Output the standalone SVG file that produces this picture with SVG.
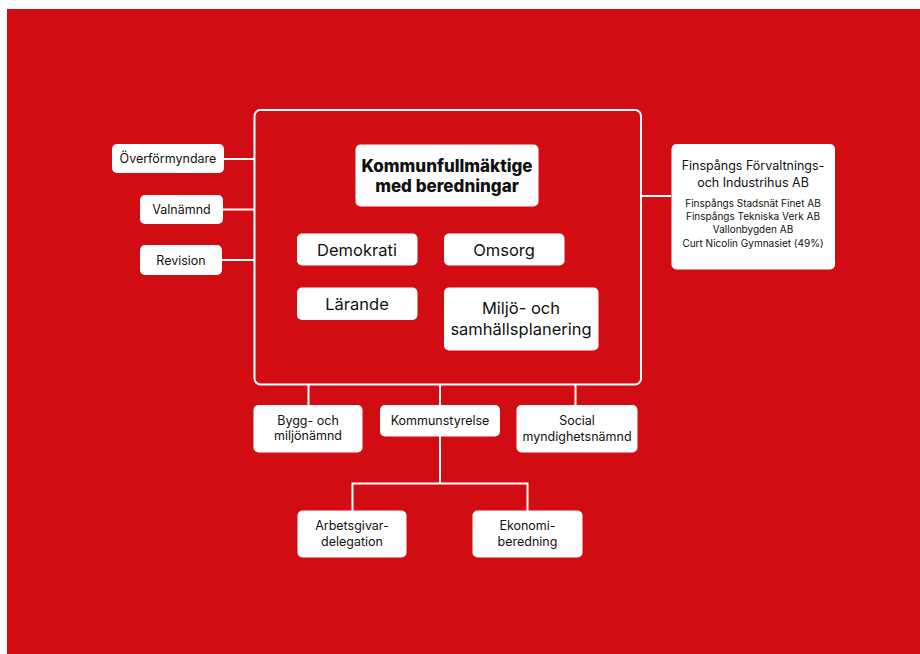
<svg xmlns="http://www.w3.org/2000/svg" width="920" height="654" viewBox="0 0 920 654">
<style>
.box{fill:#fff;}
.ln{stroke:#fff;stroke-width:2;fill:none;}
text{font-family:Inter,"Noto Sans",sans-serif;fill:#111;text-anchor:middle;dominant-baseline:central;}
.s13{font-size:12.5px;}
.s16{font-size:16.5px;}
.b{font-size:17px;font-weight:800;}
.s10{font-size:10px;}
</style>
<rect x="0" y="0" width="920" height="654" fill="#fff"/>
<rect x="7" y="9" width="913" height="645" fill="#D20C13"/>
<g id="connectors">
<rect class="ln" x="254.5" y="110" width="386.5" height="274.5" rx="6"/>
<path class="ln" d="M224 159H254.5M223 209.5H254.5M222 260H254.5"/>
<path class="ln" d="M641 196H671"/>
<path class="ln" d="M308.5 384.5V405M440 384.5V405M575.5 384.5V405"/>
<path class="ln" d="M440 436.5V483.5M352.5 483.5H527.5M352.5 482.5V510.5M527.5 482.5V510.5"/>
</g>
<g id="overformyndare"><rect class="box" x="112" y="144" width="112" height="29" rx="5"/><text class="s13" x="168" y="158.5">Överförmyndare</text></g>
<g id="valnamnd"><rect class="box" x="140" y="195" width="83" height="29" rx="5"/><text class="s13" x="181.5" y="209.5">Valnämnd</text></g>
<g id="revision"><rect class="box" x="140" y="245" width="82" height="30" rx="5"/><text class="s13" x="181" y="260">Revision</text></g>
<g id="kommunfullmaktige"><rect class="box" x="355.5" y="144.5" width="183" height="62" rx="5"/><text class="b" x="447" y="166">Kommunfullmäktige</text><text class="b" x="447" y="186">med beredningar</text></g>
<g id="demokrati"><rect class="box" x="297" y="233.5" width="120.5" height="32" rx="5"/><text class="s16" x="357" y="249.5">Demokrati</text></g>
<g id="omsorg"><rect class="box" x="444" y="233.5" width="120.5" height="32" rx="5"/><text class="s16" x="504" y="249.5">Omsorg</text></g>
<g id="larande"><rect class="box" x="297" y="287.5" width="120.5" height="32.5" rx="5"/><text class="s16" x="357" y="303.5">Lärande</text></g>
<g id="miljo"><rect class="box" x="444" y="287.5" width="154.5" height="63" rx="5"/><text class="s16" x="521" y="308">Miljö- och</text><text class="s16" x="521" y="328.5">samhällsplanering</text></g>
<g id="finspang"><rect class="box" x="671.5" y="144" width="163.5" height="125.5" rx="5"/><text class="s13" x="753" y="165">Finspångs Förvaltnings-</text><text class="s13" x="753" y="182.5">och Industrihus AB</text><text class="s10" x="753" y="202.5">Finspångs Stadsnät Finet AB</text><text class="s10" x="753" y="216">Finspångs Tekniska Verk AB</text><text class="s10" x="753" y="229">Vallonbygden AB</text><text class="s10" x="753" y="242.5">Curt Nicolin Gymnasiet (49%)</text></g>
<g id="bygg"><rect class="box" x="253.5" y="405" width="109" height="47.5" rx="5"/><text class="s13" x="308" y="420">Bygg- och</text><text class="s13" x="308" y="435.5">miljönämnd</text></g>
<g id="kommunstyrelse"><rect class="box" x="380" y="405" width="120" height="31.5" rx="5"/><text class="s13" x="440" y="420.5">Kommunstyrelse</text></g>
<g id="social"><rect class="box" x="516.5" y="405" width="121" height="47.5" rx="5"/><text class="s13" x="577" y="420">Social</text><text class="s13" x="577" y="436.5">myndighetsnämnd</text></g>
<g id="arbetsgivar"><rect class="box" x="297.5" y="510.5" width="109" height="47" rx="5"/><text class="s13" x="352" y="525.5">Arbetsgivar-</text><text class="s13" x="352" y="541.5">delegation</text></g>
<g id="ekonomi"><rect class="box" x="472.5" y="510.5" width="110" height="47" rx="5"/><text class="s13" x="527.5" y="525.5">Ekonomi-</text><text class="s13" x="527.5" y="541.5">beredning</text></g>
</svg>
